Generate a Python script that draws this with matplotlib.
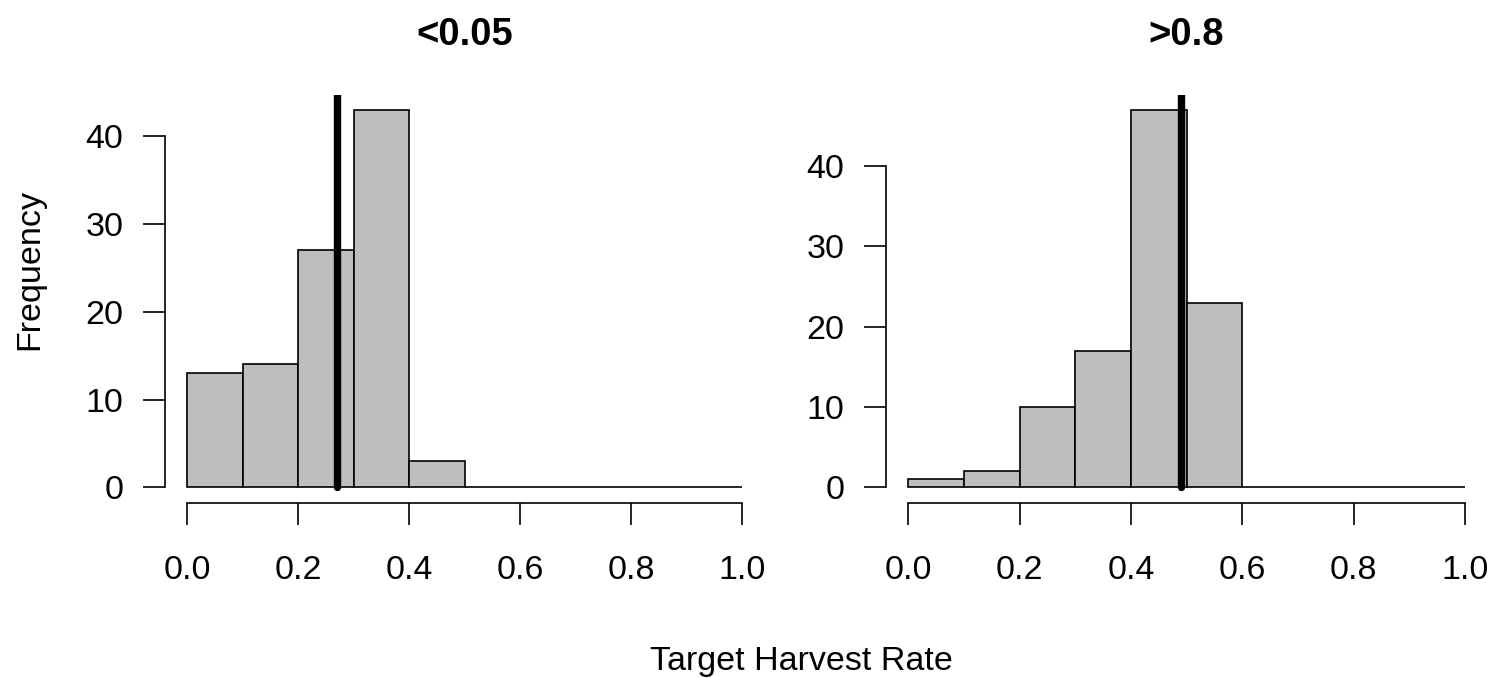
import numpy as np
import matplotlib
matplotlib.use("Agg")
import matplotlib.pyplot as plt

plt.rcParams["font.family"] = ["Liberation Sans", "DejaVu Sans"]

# Histogram bins (target harvest rate) and counts
bin_edges = [0.0, 0.1, 0.2, 0.3, 0.4, 0.5, 0.6, 0.7, 0.8, 0.9, 1.0]
low_counts = [13, 14, 27, 43, 3, 0, 0, 0, 0, 0]
high_counts = [1, 2, 10, 17, 47, 23, 0, 0, 0, 0]
low_line = 0.27
high_line = 0.49

panel_titles = ["<0.05", ">0.8"]
x_ticks = [0.0, 0.2, 0.4, 0.6, 0.8, 1.0]
x_tick_labels = ["0.0", "0.2", "0.4", "0.6", "0.8", "1.0"]
y_ticks = [0, 10, 20, 30, 40]

fig = plt.figure(figsize=(14.98, 6.78), dpi=100)
ax_left = fig.add_axes([0.1102, 0.2588, 0.3998, 0.6015])
ax_right = fig.add_axes([0.5915, 0.2588, 0.4012, 0.6015])

for ax, counts, vline, title in [(ax_left, low_counts, low_line, panel_titles[0]),
                                 (ax_right, high_counts, high_line, panel_titles[1])]:
    edges = np.array(bin_edges)
    ax.bar(edges[:-1], counts, width=np.diff(edges), align="edge",
           color="#bebebe", edgecolor="black", linewidth=1.2)
    ymax = max(counts)
    ax.set_xlim(-0.04, 1.04)
    ax.set_ylim(-0.04 * ymax, 1.04 * ymax)
    top = 1.04 * ymax
    ax.plot([vline, vline], [0, top + 5], color="black", linewidth=5.3,
            solid_capstyle="round")

    # R-style axes
    for side in ["top", "right"]:
        ax.spines[side].set_visible(False)
    ax.spines["left"].set_bounds(0, 40)
    ax.spines["bottom"].set_bounds(0, 1)
    ax.spines["left"].set_linewidth(1.2)
    ax.spines["bottom"].set_linewidth(1.2)
    ax.set_xticks(x_ticks)
    ax.set_xticklabels(x_tick_labels)
    ax.set_yticks(y_ticks)
    ax.tick_params(axis="both", direction="out", length=16, width=1.2,
                   labelsize=24.5)
    ax.tick_params(axis="x", pad=22)
    ax.tick_params(axis="y", pad=14)
    pos = ax.get_position()
    title_y = (1 - 45 / 678 - pos.y0) / pos.height
    ax.set_title(title, fontsize=27.5, fontweight="bold", pad=0, y=title_y,
                 va="baseline")

fig.text(30 / 1498, 1 - 270 / 678, "Frequency", rotation=90, fontsize=24.5,
         ha="center", va="center")
fig.text(801 / 1498, 1 - 670 / 678, "Target Harvest Rate", fontsize=24.5,
         ha="center", va="baseline")

fig.savefig("out.png", dpi=100)
